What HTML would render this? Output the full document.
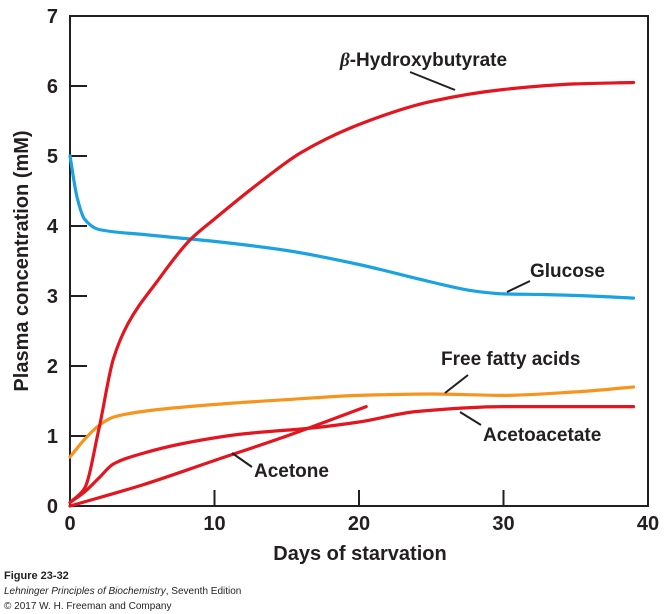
<!DOCTYPE html>
<html><head><meta charset="utf-8"><style>
body{margin:0;background:#fff;}
svg{display:block;font-family:"Liberation Sans",sans-serif;}
.t{font-weight:bold;fill:#231f20;}
</style></head><body>
<svg id="c" width="667" height="614" viewBox="0 0 667 614">
<g id="axes"></g>
<g id="series"></g>
<text class="t" x="360" y="560" font-size="20" text-anchor="middle">Days of starvation</text>
<text class="t" transform="translate(28,261) rotate(-90)" font-size="20" text-anchor="middle">Plasma concentration (mM)</text>
<text class="t" x="340" y="66" font-size="19"><tspan font-style="italic" font-family="Liberation Serif">β</tspan>-Hydroxybutyrate</text>
<line x1="410" y1="72" x2="455" y2="90" stroke="#231f20" stroke-width="2"/>
<text class="t" x="530" y="277" font-size="19">Glucose</text>
<line x1="507" y1="292" x2="530" y2="281" stroke="#231f20" stroke-width="2"/>
<text class="t" x="441" y="365" font-size="19">Free fatty acids</text>
<line x1="445" y1="393" x2="468" y2="375" stroke="#231f20" stroke-width="2"/>
<text class="t" x="483" y="441" font-size="19">Acetoacetate</text>
<line x1="460" y1="412" x2="481" y2="425" stroke="#231f20" stroke-width="2"/>
<text class="t" x="254" y="477" font-size="19">Acetone</text>
<line x1="232" y1="453" x2="252" y2="467" stroke="#231f20" stroke-width="2"/>
<text x="4" y="579" font-size="11" font-weight="bold" fill="#231f20">Figure 23-32</text>
<text x="4" y="594" font-size="10" fill="#231f20"><tspan font-style="italic">Lehninger Principles of Biochemistry</tspan>, Seventh Edition</text>
<text x="4" y="609" font-size="10" fill="#231f20">© 2017 W. H. Freeman and Company</text>
</svg>
<script>
const xTicks=[0,10,20,30,40];
const yTicks=[0,1,2,3,4,5,6,7];
const betaDays=[0,1,2,3,4,6,8.3,10,13,16,20,25,30,35,39];
const betaVals=[0.05,0.25,1.1,2.1,2.6,3.2,3.8,4.1,4.6,5.05,5.45,5.78,5.95,6.03,6.05];
const glucoseDays=[0,0.5,1,2,5,10,15,20,25,28,30,33,36,39];
const glucoseVals=[5,4.4,4.1,3.95,3.88,3.78,3.65,3.45,3.2,3.07,3.03,3.02,3.0,2.97];
const ffaDays=[0,1,2,3,5,10,15,20,25,30,35,39];
const ffaVals=[0.7,0.95,1.15,1.27,1.35,1.45,1.52,1.58,1.6,1.58,1.63,1.7];
const acacDays=[0,1,2,3,5,8,12,17,20,24,30,39];
const acacVals=[0.05,0.2,0.4,0.6,0.75,0.9,1.03,1.12,1.2,1.35,1.42,1.42];
const acetoneDays=[0,5,10,15,20.5];
const acetoneVals=[0,0.3,0.65,1.0,1.42];

const X0=70,X1=648,Y0=506,Y1=16;
const xs=d=>X0+(X1-X0)*d/40;
const ys=v=>Y0-(Y0-Y1)*v/7;
const NS="http://www.w3.org/2000/svg";
const ax=document.getElementById('axes'),sg=document.getElementById('series');
function mk(tag,attrs,parent){const e=document.createElementNS(NS,tag);for(const k in attrs)e.setAttribute(k,attrs[k]);parent.appendChild(e);return e;}
const frame=mk('rect',{x:X0,y:Y1,width:X1-X0,height:Y0-Y1,fill:'none',stroke:'#231f20','stroke-width':2},ax);


xTicks.forEach(t=>{
 const l=mk('line',{x1:xs(t),x2:xs(t),y1:Y0,y2:Y0-16,stroke:'#231f20','stroke-width':2},ax);
 
 
 const tx=mk('text',{x:xs(t),y:Y0+24,'font-size':20,'text-anchor':'middle',class:'t'},ax);
 tx.textContent=t;
 
 
});
yTicks.forEach(t=>{
 const l=mk('line',{x1:X0,x2:X0+17,y1:ys(t),y2:ys(t),stroke:'#231f20','stroke-width':2},ax);
 
 
 const tx=mk('text',{x:X0-12,y:ys(t)+7,'font-size':20,'text-anchor':'end',class:'t'},ax);
 tx.textContent=t;
 
 
});
function path(ds,vs){
 const x=ds.map(xs),y=vs.map(ys),n=x.length;
 const d=[],m=[];
 for(let i=0;i<n-1;i++)d.push((y[i+1]-y[i])/(x[i+1]-x[i]));
 m[0]=d[0];m[n-1]=d[n-2];
 for(let i=1;i<n-1;i++){
  if(d[i-1]*d[i]<=0)m[i]=0;
  else{const w1=2*(x[i+1]-x[i])+(x[i]-x[i-1]),w2=(x[i+1]-x[i])+2*(x[i]-x[i-1]);m[i]=(w1+w2)/(w1/d[i-1]+w2/d[i]);}
 }
 let s='M'+x[0]+','+y[0];
 for(let i=0;i<n-1;i++){
  const h=(x[i+1]-x[i])/3;
  s+=' C'+(x[i]+h)+','+(y[i]+m[i]*h)+' '+(x[i+1]-h)+','+(y[i+1]-m[i+1]*h)+' '+x[i+1]+','+y[i+1];
 }
 return s;
}
function line(ds,vs,col,name){
 const e=mk('path',{d:path(ds,vs),fill:'none',stroke:col,'stroke-width':3.2,'stroke-linecap':'round','stroke-linejoin':'round'},sg);
 
 
}
line(ffaDays,ffaVals,'#f7941d','ffa-line');
line(glucoseDays,glucoseVals,'#1aa3e0','glucose-line');
line(acetoneDays,acetoneVals,'#e3161f','acetone-line');
line(acacDays,acacVals,'#e3161f','acetoacetate-line');
line(betaDays,betaVals,'#e3161f','beta-hydroxybutyrate-line');
</script>
</body></html>
